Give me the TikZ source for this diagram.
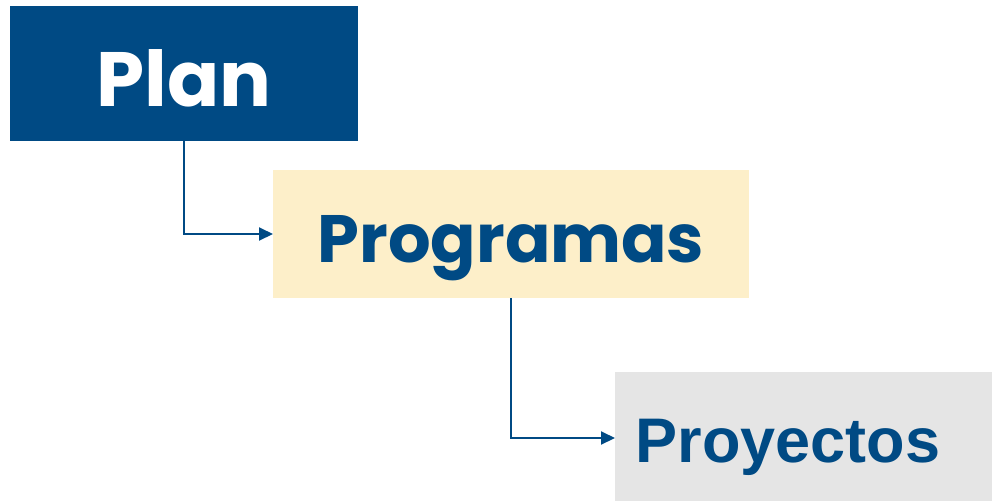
\documentclass[tikz,border=0pt]{standalone}
\usepackage{fontspec}
\setmainfont{Poppins}[BoldFont={* Bold}]
\newfontfamily\arialfont{Liberation Sans}
\usetikzlibrary{arrows.meta}
\definecolor{darkblue}{HTML}{004A84}
\definecolor{lightyellow}{HTML}{FDEFC9}
\definecolor{lightgray}{HTML}{E5E5E5}
\tikzset{
  box/.style={anchor=north west, inner sep=0pt, outer sep=0pt},
  conn/.style={draw=darkblue, line width=2pt, -{Triangle[length=14pt,width=13pt]}},
  lbl/.style={inner sep=0pt, anchor=base}
}
\begin{document}
\begin{tikzpicture}[x=1pt,y=1pt]
\useasboundingbox (0,0) rectangle (992,-501);
\node[box, fill=darkblue, minimum width=348pt, minimum height=135pt] (plan) at (10,-6) {};
\node[box, fill=lightyellow, minimum width=476pt, minimum height=128pt] (prog) at (273,-170) {};
\node[box, fill=lightgray, minimum width=377pt, minimum height=129pt] (proy) at (615,-372) {};
\node[lbl, text=white, font=\fontsize{77}{90}\selectfont\bfseries] (plantxt) at (184,-106) {Plan};
\node[lbl, text=darkblue, font=\fontsize{67}{80}\selectfont\bfseries] (progtxt) at (511,-262) {Programas};
\node[lbl, text=darkblue, font=\arialfont\fontsize{63}{70}\selectfont\bfseries] (proytxt) at (788,-462) {Proyectos};
\draw[conn] (plan.south -| plantxt) |- (prog.west);
\draw[conn] (prog.south -| progtxt) |- ([yshift=-1.5pt]proy.west);
\end{tikzpicture}
\end{document}
